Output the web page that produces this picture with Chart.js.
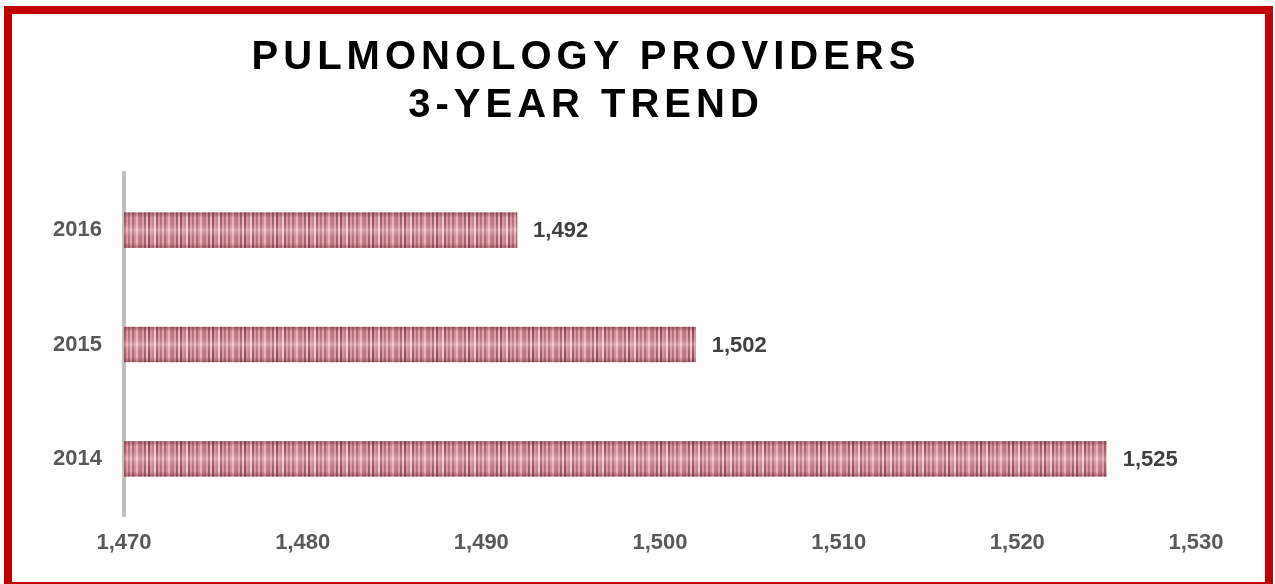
<!DOCTYPE html>
<html>
<head>
<meta charset="utf-8">
<script src="https://cdn.jsdelivr.net/npm/chart.js@4/dist/chart.umd.min.js"></script>
<style>
    html, body { margin: 0; padding: 0; background: #fff; overflow: hidden; }
    body { width: 1275px; height: 584px; position: relative; font-family: "Liberation Sans", Arial, sans-serif; }
    #frame { position: absolute; left: 4px; top: 6px; width: 1269px; height: 584px; box-sizing: border-box; border: 8px solid #C00000; }
    #title { position: absolute; left: 0; top: 31px; width: 1172px; text-align: center; font-weight: bold; font-size: 40px; line-height: 48px; letter-spacing: 5px; color: #000; z-index: 2; }
    #chart-wrap { position: absolute; left: 12px; top: 14px; width: 1253px; height: 568px; }
</style>
</head>
<body>
<div id="frame"></div>
<div id="title">PULMONOLOGY PROVIDERS<br>3-YEAR TREND</div>
<div id="chart-wrap"><canvas id="trendChart" width="1253" height="568"></canvas></div>
<script>
const years = ['2016', '2015', '2014'];
const providers = [1492, 1502, 1525];
const axisMin = 1470;
const axisMax = 1530;
const axisStep = 10;

// striped fill like the picture texture in the original
function makeStripePattern() {
    const stripes = ['#c27c88', '#e9a7b0', '#a9636f', '#f3c8ce', '#9a5460', '#e29ca6', '#cf8893', '#f6d6da',
        '#a65f6b', '#e7a2ac', '#bd7581', '#edb5bd', '#b46c78', '#dc96a0', '#f0c0c6', '#c98390'];
    const w = 2;
    const c = document.createElement('canvas');
    c.width = stripes.length * w;
    c.height = 1;
    const g = c.getContext('2d');
    stripes.forEach((col, i) => { g.fillStyle = col; g.fillRect(i * w, 0, w, 1); });
    return c;
}

const barShade = {
    id: 'barShade',
    afterDatasetsDraw(chart) {
        const ctx = chart.ctx;
        const left = chart.chartArea.left;
        chart.getDatasetMeta(0).data.forEach(bar => {
            const top = bar.y - bar.height / 2;
            const grad = ctx.createLinearGradient(0, top, 0, top + bar.height);
            grad.addColorStop(0, 'rgba(90,30,40,0.45)');
            grad.addColorStop(0.15, 'rgba(90,30,40,0.05)');
            grad.addColorStop(0.5, 'rgba(255,235,238,0.30)');
            grad.addColorStop(0.85, 'rgba(90,30,40,0.05)');
            grad.addColorStop(1, 'rgba(90,30,40,0.45)');
            ctx.save();
            ctx.fillStyle = grad;
            ctx.fillRect(left, top, bar.x - left, bar.height);
            ctx.restore();
        });
    }
};

const valueLabels = {
    id: 'valueLabels',
    afterDatasetsDraw(chart) {
        const ctx = chart.ctx;
        ctx.save();
        ctx.font = 'bold 22px "Liberation Sans", Arial, sans-serif';
        ctx.fillStyle = '#404040';
        ctx.textAlign = 'left';
        ctx.textBaseline = 'middle';
        chart.getDatasetMeta(0).data.forEach((bar, i) => {
            ctx.fillText(providers[i].toLocaleString('en-US'), bar.x + 16, bar.y + 1);
        });
        ctx.restore();
    }
};

const ctx = document.getElementById('trendChart').getContext('2d');
const pattern = ctx.createPattern(makeStripePattern(), 'repeat');

new Chart(ctx, {
    type: 'bar',
    data: {
        labels: years,
        datasets: [{ data: providers, backgroundColor: pattern, borderWidth: 0, barThickness: 35 }]
    },
    options: {
        indexAxis: 'y',
        responsive: false,
        animation: false,
        layout: { padding: { top: 159, right: 69, left: 0, bottom: 0 } },
        plugins: { legend: { display: false }, tooltip: { enabled: false } },
        scales: {
            x: {
                min: axisMin, max: axisMax,
                grid: { display: false, drawTicks: false },
                border: { display: false },
                afterFit: s => { s.height = 66; },
                ticks: {
                    stepSize: axisStep, padding: 14, color: '#595959',
                    font: { family: '"Liberation Sans", Arial, sans-serif', size: 22, weight: 'bold' },
                    callback: v => v.toLocaleString('en-US')
                }
            },
            y: {
                z: 1,
                grid: { display: false, drawTicks: false },
                border: { display: true, color: '#BFBFBF', width: 4 },
                afterFit: s => { s.width = 112; },
                ticks: {
                    padding: 22, color: '#595959',
                    font: { family: '"Liberation Sans", Arial, sans-serif', size: 22, weight: 'bold' }
                }
            }
        }
    },
    plugins: [barShade, valueLabels]
});
</script>
</body>
</html>
